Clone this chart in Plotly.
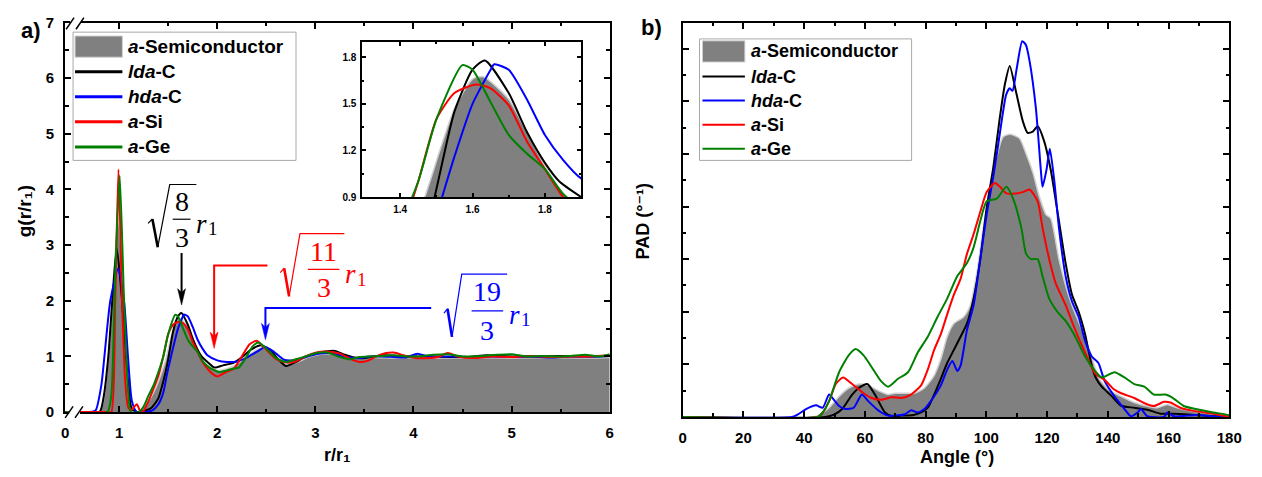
import plotly.graph_objects as go

W, H = 1262, 477
def PX(x): return x / W
def PY(y): return 1 - y / H

SANS = "Liberation Sans, Arial, DejaVu Sans, sans-serif"
SERIF = "Liberation Serif, Times New Roman, serif"

# ---------------- Panel a) : g(r/r1) ----------------
r_semi = [0.45, 0.80, 0.84, 0.90, 0.95, 0.993, 1.03, 1.07, 1.12, 1.20, 1.25, 1.30, 1.35, 1.40, 1.45, 1.468,
          1.55, 1.60, 1.63, 1.70, 1.75, 1.80, 1.86, 1.93, 2.00, 2.10, 2.20, 2.30, 2.40, 2.47, 2.56, 2.65,
          2.72, 2.82, 2.92, 3.02, 3.12, 3.22, 3.32, 3.45, 3.60, 3.80, 4.00, 4.30, 4.60, 5.00, 5.40, 5.80, 6.00]
g_semi = [0, 0, 0.2, 1.2, 2.6, 3.5, 2.6, 1.2, 0.0, 0.0, 0.1, 0.2, 0.35, 0.55, 0.8, 0.9,
          1.47, 1.66, 1.675, 1.53, 1.32, 1.1, 0.9, 0.8, 0.75, 0.78, 0.86, 1.0, 1.12, 1.15, 1.05, 0.9,
          0.85, 0.9, 0.98, 1.03, 1.05, 1.04, 1.0, 0.97, 0.98, 0.97, 0.98, 0.97, 0.98, 0.97, 0.98, 0.97, 0.98]

r_lda = [0.45, 0.80, 0.84, 0.89, 0.93, 0.976, 1.03, 1.07, 1.10, 1.13, 1.20, 1.27, 1.33, 1.40, 1.45, 1.49,
         1.55, 1.60, 1.634, 1.70, 1.75, 1.80, 1.84, 1.90, 1.97, 2.06, 2.17, 2.26, 2.34, 2.45, 2.55, 2.62,
         2.70, 2.80, 2.90, 3.01, 3.10, 3.20, 3.30, 3.40, 3.50, 3.60, 3.70, 3.85, 4.00, 4.15, 4.35, 4.55,
         4.75, 5.00, 5.25, 5.50, 5.75, 6.00]
g_lda = [0, 0, 0.25, 1.0, 2.0, 2.95, 2.0, 1.0, 0.4, 0.05, 0.0, 0.03, 0.08, 0.25, 0.55, 0.85,
         1.45, 1.72, 1.78, 1.57, 1.32, 1.12, 1.0, 0.9, 0.8, 0.84, 0.89, 1.0, 1.12, 1.2, 1.1, 0.95,
         0.83, 0.9, 1.0, 1.06, 1.09, 1.1, 1.03, 0.98, 0.97, 1.0, 1.02, 1.01, 1.0, 1.0, 0.99, 0.99,
         1.02, 1.0, 1.0, 1.01, 1.0, 1.01]

r_hda = [0.45, 0.70, 0.76, 0.82, 0.85, 0.91, 0.99, 1.05, 1.09, 1.13, 1.18, 1.27, 1.34, 1.40, 1.45, 1.49,
         1.516, 1.55, 1.60, 1.65, 1.66, 1.70, 1.75, 1.80, 1.85, 1.90, 2.00, 2.10, 2.20, 2.30, 2.40, 2.49,
         2.58, 2.68, 2.80, 2.92, 3.03, 3.15, 3.25, 3.35, 3.45, 3.55, 3.68, 3.80, 3.92, 4.04, 4.15, 4.30,
         4.45, 4.60, 4.80, 5.00, 5.20, 5.40, 5.60, 5.80, 6.00]
g_hda = [0, 0, 0.03, 0.5, 1.0, 2.0, 2.58, 2.0, 1.0, 0.2, 0.0, 0.0, 0.03, 0.14, 0.35, 0.7,
         0.9, 1.16, 1.5, 1.72, 1.755, 1.72, 1.53, 1.30, 1.14, 1.02, 0.93, 0.9, 0.91, 0.98, 1.08, 1.17,
         1.08, 0.94, 0.93, 1.0, 1.05, 1.06, 1.02, 0.98, 0.97, 1.0, 1.0, 0.99, 0.98, 1.05, 1.0, 1.0,
         1.0, 0.99, 1.0, 0.99, 1.0, 0.98, 1.0, 1.0, 1.01]

r_si = [0.45, 0.88, 0.92, 0.96, 0.993, 1.03, 1.06, 1.09, 1.12, 1.18, 1.22, 1.25, 1.30, 1.35, 1.40, 1.45,
        1.50, 1.55, 1.61, 1.65, 1.70, 1.75, 1.80, 1.85, 1.93, 2.00, 2.09, 2.17, 2.25, 2.33, 2.40, 2.50,
        2.60, 2.70, 2.80, 2.90, 3.01, 3.10, 3.25, 3.35, 3.45, 3.53, 3.62, 3.72, 3.80, 3.90, 4.02, 4.15,
        4.25, 4.35, 4.45, 4.60, 4.80, 5.00, 5.20, 5.40, 5.60, 5.80, 6.00]
g_si = [0, 0, 0.0, 2.0, 4.36, 2.0, 0.6, 0.1, 0.03, 0.14, 0.0, 0.02, 0.2, 0.42, 0.65, 1.0,
        1.4, 1.57, 1.625, 1.6, 1.49, 1.26, 1.08, 0.9, 0.72, 0.64, 0.72, 0.78, 1.0, 1.22, 1.28, 1.12,
        0.95, 0.89, 0.91, 1.0, 1.07, 1.09, 1.05, 0.96, 0.9, 0.92, 1.0, 1.06, 1.07, 1.02, 0.97, 0.97,
        0.99, 1.06, 1.0, 0.97, 1.0, 0.99, 1.01, 0.99, 1.0, 1.0, 1.02]

r_ge = [0.45, 0.88, 0.92, 0.96, 1.006, 1.05, 1.09, 1.12, 1.20, 1.25, 1.30, 1.35, 1.40, 1.45, 1.50, 1.572,
        1.60, 1.65, 1.70, 1.75, 1.80, 1.85, 1.92, 2.02, 2.10, 2.16, 2.22, 2.30, 2.36, 2.42, 2.50, 2.60,
        2.70, 2.80, 2.90, 3.01, 3.12, 3.25, 3.35, 3.45, 3.55, 3.68, 3.80, 3.95, 4.10, 4.20, 4.35, 4.50,
        4.70, 4.85, 5.00, 5.15, 5.30, 5.45, 5.60, 5.75, 5.90, 6.00]
g_ge = [0, 0, 0.3, 2.5, 4.25, 2.0, 0.4, 0.0, 0.0, 0.1, 0.3, 0.48, 0.72, 1.0, 1.4, 1.75,
        1.72, 1.51, 1.30, 1.18, 1.08, 0.92, 0.8, 0.72, 0.75, 0.78, 0.8, 1.0, 1.18, 1.25, 1.14, 0.97,
        0.9, 0.95, 1.0, 1.06, 1.07, 0.99, 0.95, 0.99, 1.0, 1.01, 1.02, 1.0, 1.01, 1.03, 1.04, 1.0,
        1.01, 1.03, 1.04, 1.0, 1.01, 1.0, 1.01, 1.03, 1.0, 1.04]

r_tickvals = [0.45, 1, 2, 3, 4, 5, 6]
r_ticktext = ["0", "1", "2", "3", "4", "5", "6"]
r_minor = [1.5, 2.5, 3.5, 4.5, 5.5]
inset_xticks = [1.4, 1.6, 1.8]
inset_yticks = [0.9, 1.2, 1.5, 1.8]

# ---------------- Panel b) : PAD ----------------
a_semi = [0, 43.3, 46, 48.2, 51.5, 54.7, 58, 61.1, 64.4, 67.7, 69.9, 73.1, 76.3, 79.6, 82.8, 85, 87.1,
          89.3, 92.5, 94.7, 96.9, 99, 101.2, 103.4, 105.5, 107.7, 110.9, 113.1, 115.3, 117.4, 119.6,
          121.2, 123.9, 126.1, 128.2, 131.5, 134.7, 136.9, 140.1, 144.4, 148.7, 153, 156.3, 159.6,
          162.8, 167.1, 174.7, 179.6, 180]
p_semi = [0, 0, 0.3, 0.7, 1.56, 2.2, 2.5, 2.4, 2.0, 1.7, 1.8, 1.8, 1.8, 2.2, 3.15, 4.4, 6.1,
          7.1, 7.6, 8.5, 11.0, 14.4, 17.3, 19.8, 21.3, 21.5, 21.2, 20.0, 18.6, 16.8, 15.4,
          15.1, 12.0, 10.0, 8.5, 6.6, 4.6, 3.0, 2.1, 1.56, 1.1, 0.83, 0.7, 0.95,
          0.7, 0.46, 0.24, 0.05, 0]

a_lda = [0, 47, 50, 52.5, 55.8, 58, 60.8, 63.3, 66.6, 69, 72, 76, 78.5, 80.7, 82.8, 85, 87.1, 89.3,
         91.5, 93.6, 95.8, 98, 100.1, 102.3, 104.4, 106.1, 107.7, 109.8, 112, 113.6, 115.3, 116.9,
         119, 121.2, 123.9, 126.1, 128.2, 130.4, 132.5, 134.7, 136, 138, 141.2, 144.4, 148.7, 153,
         157.3, 161.7, 168.2, 174.7, 180]
p_lda = [0, 0, 0.2, 0.6, 1.7, 2.2, 2.5, 1.7, 0.34, 0.05, 0.1, 0.15, 0.34, 0.7, 1.7, 2.9, 4.1, 5.1,
         6.1, 7.1, 9.0, 12.0, 15.9, 19.0, 22.7, 25.3, 26.7, 24.7, 22.5, 21.6, 21.7, 22.1,
         21.0, 18.8, 14.9, 11.7, 9.3, 8.0, 6.3, 3.9, 3.0, 2.3, 1.6, 0.85, 0.7, 0.55,
         0.25, 0.24, 0.15, 0.05, 0]

a_hda = [0, 36, 38, 40.6, 43.9, 46.1, 48.2, 49.8, 51.5, 53.6, 56.3, 59, 61.1, 64.4, 67.7, 70, 73.1,
         75.2, 77.4, 79.6, 81.7, 85, 87.1, 88.8, 90.4, 91.5, 93.6, 95.8, 98, 100.1, 102.3, 104.4,
         106.5, 107.7, 108.6, 110, 111.8, 113, 114.2, 116.3, 118, 118.5, 119.8, 120.9, 122.3, 123.9,
         126.1, 128.2, 130.4, 132.5, 134.7, 136.9, 139, 142.2, 145.5, 147.6, 149.8, 150.9, 153,
         158.5, 159.6, 161.7, 169.3, 176.9, 180]
p_hda = [0, 0, 0.2, 0.59, 0.88, 0.7, 1.7, 1.3, 0.83, 0.6, 0.7, 1.7, 1.2, 0.5, 0.1, 0.1, 0.2,
         0.5, 0.34, 0.6, 1.2, 2.4, 3.6, 4.25, 3.5, 3.9, 6.6, 8.5, 12.0, 15.4, 18.3, 21.5,
         24.5, 25.0, 24.8, 26.5, 28.58, 28.3, 27.1, 23.5, 18.6, 17.5, 18.8, 20.4, 18.1, 14.4,
         10.7, 8.8, 7.6, 5.8, 4.6, 4.1, 2.7, 1.56, 0.6, 0.05, 0.34, 0.6, 0.05,
         0, 0.34, 0.05, 0.15, 0, 0]

a_si = [0, 44.4, 46, 48.2, 50.4, 52.8, 55.8, 59, 62.2, 65.4, 68.7, 72, 75.2, 78.5, 80.7, 82.8, 85,
        87.1, 89.3, 91.5, 93.6, 95.8, 98, 100.1, 102.8, 104.5, 106.6, 109.8, 112, 114.2, 116.9,
        118.5, 120.7, 122.8, 126.1, 129.3, 132.5, 135.8, 139, 142, 144.4, 148.7, 152.5, 155.2,
        158.5, 160.6, 163.9, 168.2, 174.7, 179, 180]
p_si = [0, 0, 0.3, 1.2, 2.5, 3.0, 2.5, 1.9, 1.44, 1.3, 1.5, 1.44, 1.7, 2.4, 3.6, 5.1, 6.3,
        7.8, 9.3, 10.5, 12.4, 13.9, 15.6, 17.1, 17.8, 17.5, 17.0, 17.0, 17.1, 17.3, 16.4,
        14.4, 12.0, 10.2, 8.5, 6.6, 4.9, 3.3, 2.8, 2.1, 1.8, 1.44, 1.0, 0.83,
        1.15, 1.1, 0.7, 0.46, 0.24, 0.05, 0]

a_ge = [0, 44.4, 46, 48.2, 51.5, 54.7, 56.9, 59.5, 62.2, 65.4, 67.7, 70.9, 74.2, 77.4, 80.7, 83.9,
        87.1, 90.4, 93.6, 95.8, 98, 100.1, 103.4, 106.6, 108.8, 111.5, 113.1, 114.7, 116.9, 118.5,
        120.7, 123.4, 126.1, 129.3, 132.5, 135.8, 138, 142.2, 145.5, 148.7, 152, 155.2, 159, 161.7,
        165, 169.3, 174.7, 179.6, 180]
p_ge = [0, 0, 0.3, 1.2, 3.4, 4.7, 5.16, 4.7, 3.8, 2.7, 2.3, 2.9, 3.4, 4.9, 6.1, 7.6,
        9.0, 10.7, 11.7, 12.9, 14.9, 16.4, 16.6, 17.5, 16.6, 14.4, 12.4, 12.0, 12.0, 10.7,
        9.0, 8.0, 7.3, 6.1, 4.6, 3.5, 3.0, 3.4, 3.0, 2.5, 2.3, 1.7, 1.7, 1.4,
        0.83, 0.59, 0.34, 0.15, 0.1]

names = ["a-Semiconductor", "lda-C", "hda-C", "a-Si", "a-Ge"]
labels = ["<b><i>a</i>-Semiconductor</b>", "<b><i>lda</i>-C</b>", "<b><i>hda</i>-C</b>",
          "<b><i>a</i>-Si</b>", "<b><i>a</i>-Ge</b>"]
colors = ["#808080", "#000000", "#0000ff", "#ff0000", "#008000"]
EDGE = "#d0d0d0"

left_series = [(r_semi, g_semi), (r_lda, g_lda), (r_hda, g_hda), (r_si, g_si), (r_ge, g_ge)]
right_series = [(a_semi, p_semi), (a_lda, p_lda), (a_hda, p_hda), (a_si, p_si), (a_ge, p_ge)]

fig = go.Figure()

def add_series(series, xa, ya, lw):
    for i, (xs, ys) in enumerate(series):
        if i == 0:
            fig.add_trace(go.Scatter(x=xs, y=ys, name=names[i], mode="lines", fill="tozeroy",
                                     fillcolor=colors[0], line=dict(color=EDGE, width=1.5, shape="spline", smoothing=0.6),
                                     xaxis=xa, yaxis=ya, showlegend=False, hoverinfo="skip"))
        else:
            fig.add_trace(go.Scatter(x=xs, y=ys, name=names[i], mode="lines",
                                     line=dict(color=colors[i], width=lw, shape="spline", smoothing=0.6),
                                     xaxis=xa, yaxis=ya, showlegend=False))

add_series(left_series, "x", "y", 2)
add_series(left_series, "x3", "y3", 2)
add_series(right_series, "x2", "y2", 2)

tickfont = dict(family=SANS, size=15, color="black", weight="bold")
base = dict(showline=True, linecolor="black", linewidth=2, mirror="allticks", ticks="inside",
            ticklen=6, tickwidth=1.5, tickcolor="black", showgrid=False, zeroline=False,
            tickfont=tickfont, ticklabelstandoff=6)
minor = dict(ticks="inside", ticklen=3.5, tickwidth=1.5, tickcolor="black", showgrid=False)
insetfont = dict(family=SANS, size=10, color="black", weight="bold")

fig.update_layout(
    width=W, height=H, margin=dict(l=0, r=0, t=0, b=0),
    paper_bgcolor="white", plot_bgcolor="white", showlegend=False,
    xaxis=dict(base, domain=[PX(62), PX(614)], anchor="y", range=[0.45, 6.0],
               tickmode="array", tickvals=r_tickvals, ticktext=r_ticktext,
               minor=dict(minor, tickmode="array", tickvals=r_minor)),
    yaxis=dict(base, domain=[PY(418), PY(14)], anchor="x", range=[0, 7], dtick=1,
               minor=dict(minor, dtick=0.5)),
    xaxis2=dict(base, domain=[PX(688), PX(1242)], anchor="y2", range=[0, 180], dtick=20,
                minor=dict(minor, dtick=10)),
    yaxis2=dict(base, domain=[PY(423), PY(14)], anchor="x2", range=[0, 30], dtick=4,
                showticklabels=False, minor=dict(minor, dtick=2)),
    xaxis3=dict(base, domain=[PX(363), PX(585)], anchor="y3", range=[1.295, 1.9],
                tickmode="array", tickvals=inset_xticks, linewidth=1.5, ticklen=4,
                tickfont=insetfont, ticklabelstandoff=2,
                minor=dict(minor, ticklen=2.5, tickmode="array", tickvals=[1.5, 1.7])),
    yaxis3=dict(base, domain=[PY(195), PY(34)], anchor="x3", range=[0.9, 1.9],
                tickmode="array", tickvals=inset_yticks, linewidth=1.5, ticklen=4,
                tickfont=insetfont, ticklabelstandoff=2,
                minor=dict(minor, ticklen=2.5, tick0=0.9, dtick=0.15)),
)

ann = []
shapes = []

def txt(x, y, s, size, color="black", family=SANS, bold=True, angle=0, xanchor="center",
        yanchor="middle", italic=False):
    ann.append(dict(x=PX(x), y=PY(y), xref="paper", yref="paper", text=s, showarrow=False,
                    font=dict(family=family, size=size, color=color, weight="bold" if bold else "normal",
                              style="italic" if italic else "normal"),
                    textangle=angle, xanchor=xanchor, yanchor=yanchor))

def line(x0, y0, x1, y1, color="black", width=2):
    shapes.append(dict(type="line", xref="paper", yref="paper", x0=PX(x0), y0=PY(y0), x1=PX(x1), y1=PY(y1),
                       line=dict(color=color, width=width), layer="above"))

def rect(x0, y0, x1, y1, fill, lc, lw):
    shapes.append(dict(type="rect", xref="paper", yref="paper", x0=PX(x0), y0=PY(y1), x1=PX(x1), y1=PY(y0),
                       fillcolor=fill, line=dict(color=lc, width=lw), layer="above"))

def path(pts, color, width=0, fill=None, close=False):
    d = "M" + " L".join(f"{PX(x):.5f},{PY(y):.5f}" for x, y in pts) + (" Z" if close else "")
    shapes.append(dict(type="path", xref="paper", yref="paper", path=d,
                       line=dict(color=color, width=width), fillcolor=fill if fill else "rgba(0,0,0,0)",
                       layer="above"))

# axis titles and panel labels
txt(338, 462, "r/r\u2081", 18)
txt(21, 210, "g(r/r\u2081)", 19, angle=-90)
txt(966, 465, "Angle (°)", 18)
txt(648, 220, "PAD (°\u207b\u00b9)", 18, angle=-90)
txt(27, 22, "a)", 22)
txt(656, 19, "b)", 22)

# axis breaks
rect(66, 414, 77, 422, "white", "white", 0)
line(62, 424, 70, 412, width=1.5)
line(72, 424, 80, 412, width=1.5)
rect(67, 11, 78, 17, "white", "white", 0)
line(63, 21, 71, 9, width=1.5)
line(73, 21, 81, 9, width=1.5)

# manual legends
def legend(box, rows, sx0, sx1, tx, fs, lw, rh):
    rect(box[0], box[1], box[2], box[3], "white", "#a8a8a8", 1)
    for i, yy in enumerate(rows):
        if i == 0:
            rect(sx0, yy - rh / 2, sx1, yy + rh / 2, colors[0], EDGE, 1)
        else:
            line(sx0, yy, sx1, yy, colors[i], lw)
        txt(tx, yy, labels[i], fs, xanchor="left")

legend((70, 24, 296, 157), [39, 65, 91, 117, 143], 72, 120, 124, 19, 3, 22)
legend((705, 31, 920, 157), [44, 70, 95, 120, 145], 708, 751, 755, 18, 2, 22)

# radical formulas
def formula(color, x0, yt, yb, w, xe, xc, num, ny, by, dy, half, rx, ry):
    h = yb - yt
    path([(x0, yt + 0.62 * h), (x0 + 0.2 * w, yt + 0.55 * h)], color, 1.2)
    path([(x0 + 0.2 * w, yt + 0.55 * h), (x0 + 0.45 * w, yb)], color, 2.6)
    path([(x0 + 0.45 * w, yb), (x0 + w, yt), (xe, yt)], color, 1.2)
    txt(xc, ny, num, 28, color, SERIF, False)
    line(xc - half, by, xc + half, by, color, 1.2)
    txt(xc, dy, "3", 28, color, SERIF, False)
    txt(rx, ry, "r", 27, color, SERIF, False, italic=True)
    txt(rx + 12, ry + 5, "1", 19, color, SERIF, False)

formula("black", 146, 182, 247, 22, 195, 180, "8", 200, 218, 237, 9, 200, 223)
formula("red", 280, 233, 298, 20, 345, 324, "11", 251, 270, 289, 16, 351, 275)
formula("blue", 446, 275, 340, 18, 510, 490, "19", 293, 313, 333, 16, 517, 317)

# arrows
def arrow(pts, tip, color):
    path(pts, color, 2)
    tx, ty = tip
    path([(tx - 4, ty - 17), (tx, ty), (tx + 4, ty - 17), (tx, ty - 13)], color, 0.5, color, True)

arrow([(180, 253), (180, 296)], (180, 307), "black")
arrow([(267, 266), (213, 266), (213, 341)], (213, 352), "red")
arrow([(433, 310), (265, 310), (265, 332)], (265, 343), "blue")

fig.update_layout(annotations=ann, shapes=shapes)
fig.write_html("out.html")
